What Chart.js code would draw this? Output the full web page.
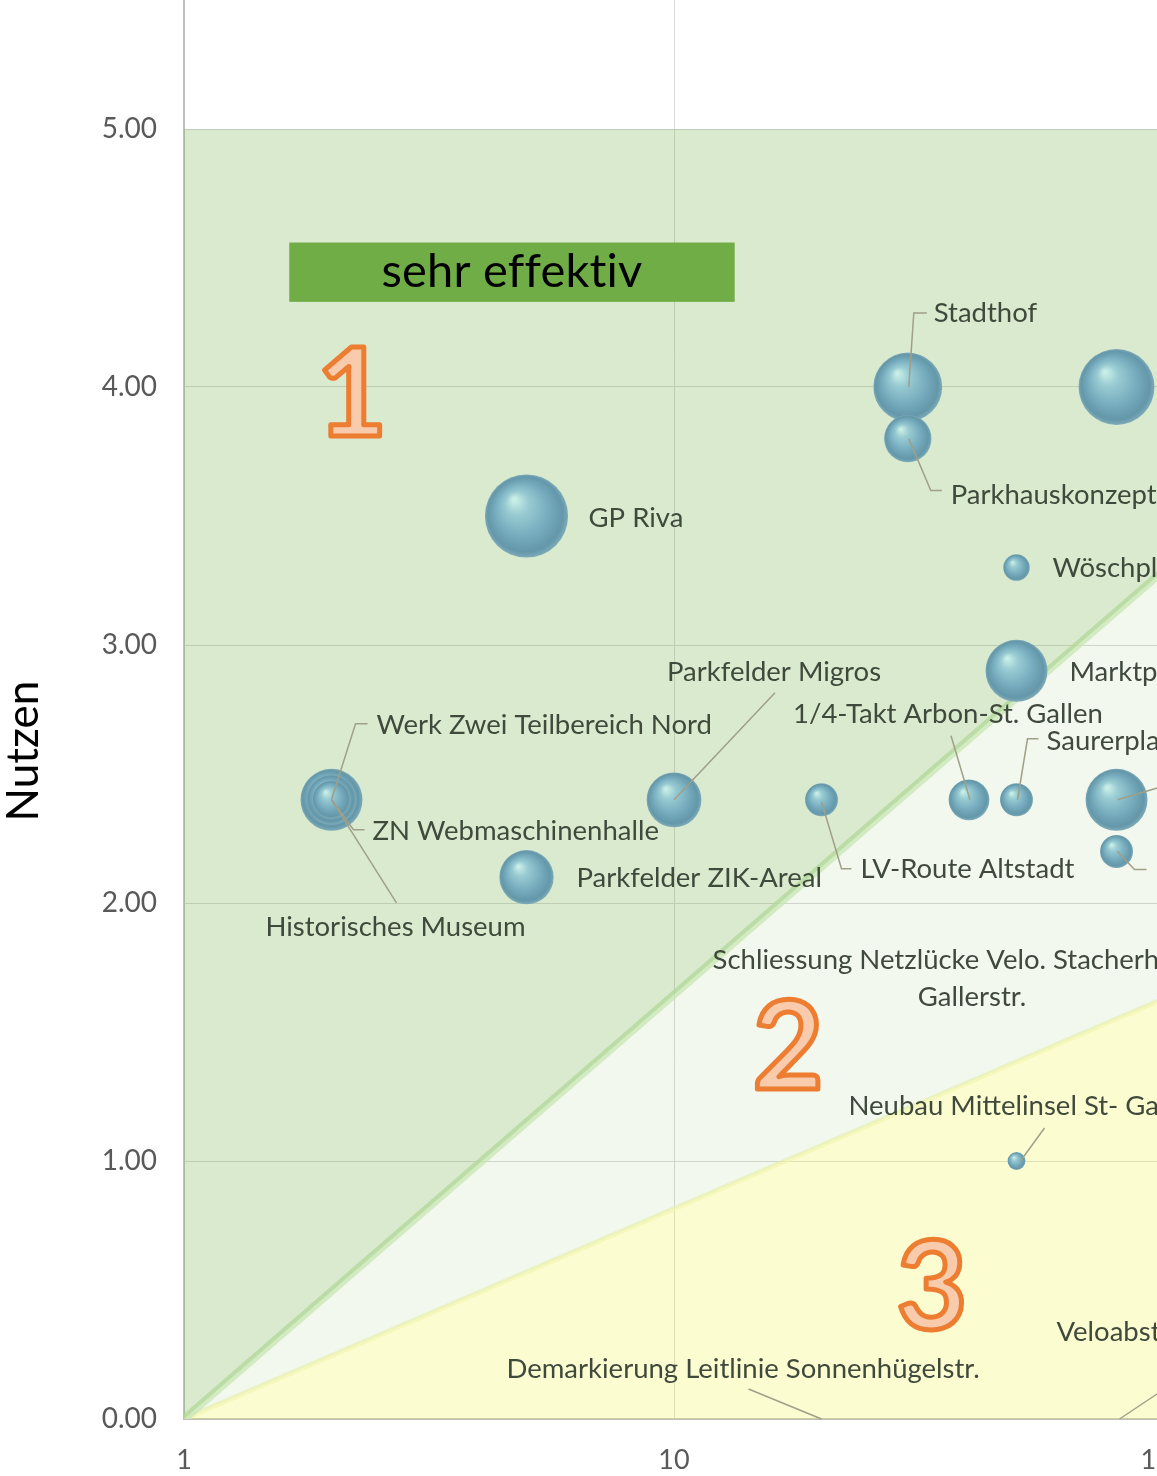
<!DOCTYPE html>
<html>
<head>
<meta charset="utf-8">
<script src="https://cdn.jsdelivr.net/npm/chart.js@4.4.1/dist/chart.umd.min.js"></script>
<style>
html, body { margin:0; padding:0; overflow:hidden; background:#fff; width:1157px; height:1476px; }
canvas { display:block; }
</style>
</head>
<body>
<canvas id="myChart" width="1200" height="1476"></canvas>
<script>
// Massnahmen: Aufwand (log), Nutzen, Blasengroesse
var projekte = [
    'Stadthof', '', 'Parkhauskonzept', 'GP Riva', 'Wöschplatz', 'Marktplatz',
    '1/4-Takt Arbon-St. Gallen', 'Saurerplatz', '', '', 'LV-Route Altstadt',
    'Parkfelder Migros', 'Werk Zwei Teilbereich Nord', 'ZN Webmaschinenhalle',
    'Historisches Museum', 'Parkfelder ZIK-Areal',
    'Schliessung Netzlücke Velo. Stacherholz St.\nGallerstr.',
    'Neubau Mittelinsel St- Gallerstr.', 'Demarkierung Leitlinie Sonnenhügelstr.',
    'Veloabstellplätze'
];
var aufwand = [30, 80, 30, 5, 50, 50, 40, 50, 80, 80, 20, 10, 2, 2, 2, 5, 40, 50, 20, 80];
var nutzen  = [4.0, 4.0, 3.8, 3.5, 3.3, 2.9, 2.4, 2.4, 2.4, 2.2, 2.4, 2.4, 2.4, 2.4, 2.4, 2.1, 1.7, 1.0, 0, 0];
var gewicht = [74, 90, 35, 108, 11, 60, 26, 17, 60, 17, 17, 47, 60, 39, 23, 46, 0, 5, 0, 0];

var xTicks = [1, 10, 100];
var yTicks = [0, 1, 2, 3, 4, 5];

// Bereichsgrenzen (Werte bei Aufwand 1 und 100)
var grenzeX = [1, 100];
var grenzeOben = [5, 5];
var grenzeEffektiv = [0, 3.29];
var grenzeWenig = [0, 1.63];

// Beschriftungen: Versatz in px zur Blase, Fuehrungslinie
var labelPos = [
    {dx:26, dy:-74, leader:[[1,0],[6,-74],[19,-74]]},
    null,
    {dx:43, dy:57, leader:[[1,0],[23,52],[34,52]]},
    {dx:62, dy:2},
    {dx:36, dy:1},
    {dx:53, dy:1},
    {dx:-176, dy:-86, leader:[[1,0],[-18,-64]]},
    {dx:30, dy:-59, leader:[[1,0],[11,-61],[22,-61]]},
    {dx:50, dy:-13, leader:[[1,0],[45,-13]]},
    {dx:34, dy:18, leader:[[1,0],[18,18],[30,18]]},
    {dx:39, dy:69, leader:[[0,2],[20,69],[30,69]]},
    {dx:-7, dy:-128, leader:[[0,0],[101,-107]]},
    {dx:45, dy:-75, leader:[[0,0],[24,-76],[36,-76]]},
    {dx:41, dy:31, leader:[[0,0],[22,30],[33,30]]},
    {dx:64, dy:127, align:'center', leader:[[0,0],[65,103]]},
    {dx:50, dy:1},
    {dx:3, dy:-20, align:'center', lh:37},
    {dx:-168, dy:-55, leader:[[4,0],[28,-33]]},
    {dx:-315, dy:-50, leader:[[0,0],[-73,-30]]},
    {dx:-60, dy:-87, leader:[[3,0],[48,-30]]}
];

var zonen = [
    {text:'1', x:2.2, y:3.98},
    {text:'2', x:17.1, y:1.45},
    {text:'3', x:33.6, y:0.52}
];
var hinweis = {text:'sehr effektiv', x1:1.64, x2:13.3, y1:4.33, y2:4.56};

var blasen = aufwand.map(function(x, i){
    return {x: x, y: nutzen[i], r: Math.sqrt(gewicht[i]) * 4};
});
function linie(werte){
    return grenzeX.map(function(x, i){ return {x: x, y: werte[i]}; });
}

function kugel(context){
    if (context.type !== 'data' || !context.raw) return '#78aebf';
    var chart = context.chart;
    var raw = context.raw;
    var x = chart.scales.x ? chart.scales.x.getPixelForValue(raw.x) : NaN;
    var y = chart.scales.y ? chart.scales.y.getPixelForValue(raw.y) : NaN;
    var r = Math.max(raw.r, 1);
    if (!isFinite(x) || !isFinite(y)) return '#78aebf';
    var g = chart.ctx.createRadialGradient(x - r*0.3, y - r*0.4, r*0.04, x, y, r);
    g.addColorStop(0, '#c8eee6');
    g.addColorStop(0.25, '#98cbd2');
    g.addColorStop(0.6, '#78aebf');
    g.addColorStop(0.9, '#6397a9');
    g.addColorStop(1, '#7eabb8');
    return g;
}

var beschriftung = {
    id: 'beschriftung',
    afterDatasetsDraw: function(chart){
        var c = chart.ctx;
        var meta = chart.getDatasetMeta(0);
        c.save();
        c.font = '27.5px Lato';
        c.textBaseline = 'middle';
        meta.data.forEach(function(pt, i){
            var p = labelPos[i];
            if (!p) return;
            if (p.leader) {
                c.strokeStyle = '#a09f88';
                c.lineWidth = 1.5;
                c.beginPath();
                p.leader.forEach(function(q, k){
                    if (k === 0) c.moveTo(pt.x + q[0], pt.y + q[1]);
                    else c.lineTo(pt.x + q[0], pt.y + q[1]);
                });
                c.stroke();
            }
            c.fillStyle = '#404a3c';
            c.textAlign = p.align || 'left';
            projekte[i].split('\n').forEach(function(t, k){
                c.fillText(t, pt.x + p.dx, pt.y + p.dy + k * (p.lh || 30));
            });
        });

        var sx = chart.scales.x, sy = chart.scales.y;
        // Hinweisfeld
        var bx1 = sx.getPixelForValue(hinweis.x1), bx2 = sx.getPixelForValue(hinweis.x2);
        var by1 = sy.getPixelForValue(hinweis.y2), by2 = sy.getPixelForValue(hinweis.y1);
        c.fillStyle = '#70ad47';
        c.fillRect(bx1, by1, bx2 - bx1, by2 - by1);
        c.fillStyle = '#000';
        c.font = '47px Lato';
        c.letterSpacing = '0.2px';
        c.textAlign = 'center';
        c.fillText(hinweis.text, (bx1 + bx2) / 2, (by1 + by2) / 2);
        c.letterSpacing = '0px';

        // Zonennummern
        c.font = 'bold 122px Lato';
        c.textBaseline = 'alphabetic';
        c.lineJoin = 'round';
        zonen.forEach(function(z){
            var zx = sx.getPixelForValue(z.x), zy = sy.getPixelForValue(z.y) + 44;
            c.fillStyle = '#f8cbad';
            c.fillText(z.text, zx, zy);
            c.strokeStyle = '#ed7d31';
            c.lineWidth = 5;
            c.strokeText(z.text, zx, zy);
        });

        // Achsentitel
        c.translate(24, 751);
        c.rotate(-Math.PI / 2);
        c.font = '44px Lato';
        c.fillStyle = '#000';
        c.textBaseline = 'middle';
        c.fillText('Nutzen', 0, 0);
        c.restore();
    }
};

var ctx = document.getElementById('myChart').getContext('2d');
var myChart = new Chart(ctx, {
    type: 'bubble',
    data: {
        datasets: [{
            label: 'Massnahmen',
            data: blasen,
            backgroundColor: kugel,
            borderWidth: 0,
            order: 0
        }, {
            type: 'line',
            label: 'sehr effektiv',
            data: linie(grenzeOben),
            borderWidth: 0,
            pointRadius: 0,
            backgroundColor: 'rgba(112,173,71,0.26)',
            fill: 2,
            order: 1
        }, {
            type: 'line',
            label: 'effektiv',
            data: linie(grenzeEffektiv),
            borderColor: 'rgba(200,230,180,0.75)',
            borderWidth: 8,
            pointRadius: 0,
            backgroundColor: 'rgba(112,173,71,0.09)',
            fill: 3,
            order: 1
        }, {
            type: 'line',
            label: 'wenig effektiv',
            data: linie(grenzeWenig),
            borderColor: 'rgba(240,245,170,0.6)',
            borderWidth: 5,
            pointRadius: 0,
            backgroundColor: 'rgba(245,245,90,0.28)',
            fill: 'origin',
            order: 1
        }]
    },
    options: {
        responsive: false,
        animation: false,
        events: [],
        layout: { autoPadding: false, padding: { left: 0, right: 36, top: 0, bottom: 0 } },
        plugins: { legend: { display: false }, tooltip: { enabled: false } },
        scales: {
            x: {
                type: 'logarithmic',
                min: 1,
                max: 100,
                afterBuildTicks: function(scale){
                    scale.ticks = xTicks.map(function(v){ return {value: v}; });
                },
                afterFit: function(scale){ scale.height = 57; },
                grid: { color: '#d9d9d9', lineWidth: 1, drawTicks: true, tickLength: 25, tickColor: 'rgba(0,0,0,0)' },
                border: { color: '#bfbfbf', width: 2 },
                ticks: {
                    font: { family: 'Lato', size: 27 },
                    color: '#595959',
                    padding: 0,
                    maxRotation: 0,
                    callback: function(v){ return String(v); }
                }
            },
            y: {
                min: 0,
                max: 5.5,
                afterBuildTicks: function(scale){
                    scale.ticks = yTicks.map(function(v){ return {value: v}; });
                },
                afterFit: function(scale){
                    scale.width = 184;
                    scale.paddingTop = 0;
                    scale.paddingBottom = 0;
                },
                grid: { color: '#d9d9d9', lineWidth: 1, drawTicks: true, tickLength: 27, tickColor: 'rgba(0,0,0,0)' },
                border: { color: '#bfbfbf', width: 2 },
                ticks: {
                    font: { family: 'Lato', size: 28 },
                    color: '#595959',
                    padding: 0,
                    callback: function(v){ return v.toFixed(2); }
                }
            }
        }
    },
    plugins: [beschriftung]
});
</script>
</body>
</html>
